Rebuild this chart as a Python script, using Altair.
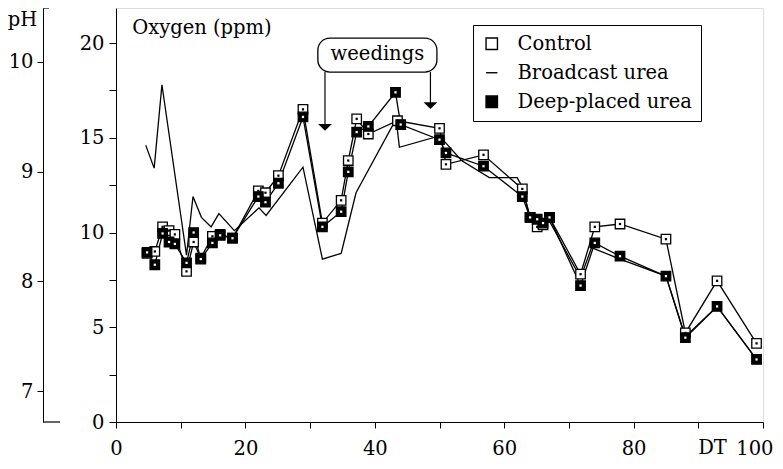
import altair as alt
import pandas as pd

# ---------------- data ----------------
series_names = ["Control", "Broadcast urea", "Deep-placed urea"]

ctrl_x = [4.8, 6.0, 7.2, 8.2, 9.1, 10.9, 12.0, 13.1, 14.9, 16.1, 18.0, 22.0, 23.1, 25.1,
          28.9, 31.9, 34.8, 35.9, 37.2, 39.0, 43.5, 50.0, 51.0, 56.8, 62.8, 64.0, 65.1,
          66.0, 67.0, 71.8, 74.0, 77.9, 85.0, 88.0, 92.9, 99.0]
ctrl_y = [8.9, 9.0, 10.3, 10.1, 9.9, 7.95, 9.5, 8.65, 9.8, 9.9, 9.7, 12.2, 12.1, 13.0,
          16.5, 10.5, 11.7, 13.8, 16.0, 15.2, 15.9, 15.5, 13.6, 14.1, 12.3, 10.8, 10.3,
          10.4, 10.8, 7.8, 10.3, 10.45, 9.65, 4.7, 7.45, 4.15]

deep_x = [4.8, 6.0, 7.2, 8.2, 9.1, 10.9, 12.0, 13.1, 14.9, 16.1, 18.0, 22.0, 23.1, 25.1,
          28.9, 31.9, 34.8, 35.9, 37.2, 39.0, 43.2, 44.0, 50.0, 51.0, 56.8, 62.8, 64.0,
          65.1, 66.0, 67.0, 71.8, 74.0, 77.9, 85.0, 88.0, 92.9, 99.0]
deep_y = [8.95, 8.3, 9.95, 9.5, 9.4, 8.4, 10.0, 8.6, 9.45, 9.85, 9.7, 11.9, 11.6, 12.6,
          16.1, 10.3, 11.1, 13.2, 15.3, 15.6, 17.4, 15.7, 14.9, 14.2, 13.5, 11.9, 10.8,
          10.7, 10.5, 10.8, 7.2, 9.45, 8.75, 7.7, 4.45, 6.1, 3.3]

bcast_x = [4.6, 5.9, 7.1, 10.9, 11.9, 13.2, 14.7, 15.9, 18.3, 22.1, 23.2, 28.9, 31.9,
           34.8, 37.1, 43.3, 43.8, 50.0, 53.4, 57.7, 62.0, 62.8, 64.0, 65.1, 67.0, 71.8,
           73.5, 77.9, 85.0, 88.0, 92.9, 99.0]
bcast_y = [14.6, 13.4, 17.8, 8.8, 11.9, 10.8, 10.3, 11.0, 10.1, 11.3, 10.9, 13.45, 8.6,
           8.9, 12.1, 16.0, 14.5, 15.1, 13.8, 12.9, 12.9, 12.4, 10.8, 10.5, 10.6, 7.6,
           9.2, 8.6, 7.7, 4.5, 6.1, 3.3]

x_ticks = [0, 10, 20, 30, 40, 50, 60, 70, 80, 90, 100]
y_ticks = [0, 2.5, 5, 7.5, 10, 12.5, 15, 17.5, 20]
ph_ticks = [7, 8, 9, 10]
ph_ends = [6.72, 10.49]

weeding_x = [32.3, 48.6]
weeding_tip = [15.55, 16.7]
weed_box = {"x": 31.2, "x2": 49.6, "y": 18.47, "y2": 20.26}

FONT = "DejaVu Serif"
FS = 19.5

# ---------------- tables ----------------
rows = []
for name, xs, ys in [("Control", ctrl_x, ctrl_y),
                     ("Broadcast urea", bcast_x, bcast_y),
                     ("Deep-placed urea", deep_x, deep_y)]:
    for i, (a, b) in enumerate(zip(xs, ys)):
        rows.append({"series": name, "x": a, "y": b, "i": i})
df = pd.DataFrame(rows)
df_pts = df[df["series"] != "Broadcast urea"]

x_scale = alt.Scale(domain=[0, 100], nice=False, zero=False)
y_scale = alt.Scale(domain=[0, 21.85], nice=False)

x_axis = alt.Axis(values=x_ticks, title=None, grid=False, tickSize=6,
                  labelExpr="datum.value % 20 == 0 ? datum.label : ''",
                  labelAlign={"condition": {"test": "datum.value == 100", "value": "right"},
                              "value": "center"},
                  labelOffset={"condition": {"test": "datum.value == 100", "value": 10},
                               "value": 0},
                  labelPadding=11, labelFont=FONT, labelFontSize=FS,
                  labelColor="black", domainColor="black", tickColor="black",
                  labelFlush=False, labelOverlap=False)
y_axis = alt.Axis(values=y_ticks, title=None, grid=False, tickSize=7,
                  labelExpr="datum.value % 5 == 0 ? datum.label : ''",
                  labelPadding=5, labelFont=FONT, labelFontSize=FS,
                  labelColor="black", domainColor="black", tickColor="black")


def X(field="x"):
    return alt.X(f"{field}:Q", scale=x_scale, axis=x_axis)


def Y(field="y"):
    return alt.Y(f"{field}:Q", scale=y_scale, axis=y_axis)


lines = alt.Chart(df).mark_line(color="black", strokeWidth=1.3).encode(
    x=X(), y=Y(), detail="series:N", order="i:Q")

legend = alt.Legend(title=None, orient="none", legendX=357, legendY=17,
                    labelFont=FONT, labelFontSize=FS, labelColor="black",
                    labelLimit=400,
                    strokeColor="black", fillColor="white", padding=9,
                    rowPadding=8, symbolSize=130, symbolStrokeColor="black",
                    symbolStrokeWidth=1.4, labelOffset=16, cornerRadius=0)

points = alt.Chart(df_pts).mark_point(size=90, strokeWidth=1.3,
                                      opacity=1, filled=True).encode(
    x=X(), y=Y(),
    shape=alt.Shape("series:N", scale=alt.Scale(domain=series_names,
                    range=["square", "stroke", "square"]), legend=legend),
    fill=alt.Fill("series:N", scale=alt.Scale(domain=series_names,
                  range=["white", "transparent", "black"]), legend=legend),
    stroke=alt.Stroke("series:N", scale=alt.Scale(domain=series_names,
                      range=["black", "black", "black"]), legend=legend),
)

dots = alt.Chart(df_pts).mark_square(size=5, opacity=1).encode(
    x=X(), y=Y(),
    color=alt.Color("series:N", scale=alt.Scale(domain=["Control", "Deep-placed urea"],
                    range=["black", "white"]), legend=None),
)

box_df = pd.DataFrame([weed_box])
box = alt.Chart(box_df).mark_rect(fill="white", stroke="black", strokeWidth=1.3,
                                  cornerRadius=12).encode(
    x=X("x"), x2="x2", y=Y("y"), y2="y2")

weed_text = alt.Chart(pd.DataFrame({"x": [(weed_box["x"] + weed_box["x2"]) / 2],
                                    "y": [(weed_box["y"] + weed_box["y2"]) / 2],
                                    "t": ["weedings"]})).mark_text(
    font=FONT, fontSize=FS, color="black", baseline="middle", dy=-1).encode(
    x=X(), y=Y(), text="t:N")

arr_df = pd.DataFrame({"x": weeding_x, "y": [weed_box["y"]] * 2,
                       "y2": [t + 0.1 for t in weeding_tip], "tip": weeding_tip})
arr_lines = alt.Chart(arr_df).mark_rule(color="black", strokeWidth=1.2).encode(
    x=X(), y=Y(), y2="y2")
arr_heads = alt.Chart(arr_df).mark_point(
    shape="M-1,-0.5L1,-0.5L0,0.5Z", size=190, filled=True, color="black",
    opacity=1).encode(x=X(), y=Y("tip"))

oxy_title = alt.Chart(pd.DataFrame({"x": [2.5], "y": [20.8], "t": ["Oxygen (ppm)"]})).mark_text(
    font=FONT, fontSize=FS, color="black", align="left", baseline="middle").encode(
    x=X(), y=Y(), text="t:N")

dt_label = alt.Chart(pd.DataFrame({"x": [92.2], "t": ["DT"]})).mark_text(
    font=FONT, fontSize=FS, color="black", align="center", baseline="top").encode(
    x=X(), y=alt.value(431), text="t:N")

main = alt.layer(lines, points, dots, box, weed_text, arr_lines, arr_heads,
                 oxy_title, dt_label)

ph_scale = alt.Scale(domain=ph_ends, nice=False)
ph_axis = alt.Axis(orient="left", offset=73, values=ph_ticks, title="pH",
                   titleAngle=0, titleX=-21, titleY=11, titleAlign="center",
                   titleBaseline="middle", titleFont=FONT, titleFontSize=FS,
                   titleFontWeight="normal", titleColor="black",
                   grid=False, tickSize=6, labelPadding=4, labelFont=FONT,
                   labelFontSize=FS, labelColor="black",
                   domainColor="black", tickColor="black")

# bracket ends of the pH axis (decoration), carrying the pH axis itself
ph_bottom = alt.Chart(pd.DataFrame({"ph": [ph_ends[0]]})).mark_rule(
    color="black", strokeWidth=1.2).encode(
    y=alt.Y("ph:Q", scale=ph_scale, axis=ph_axis),
    x=alt.value(-73), x2=alt.value(-73 + 17))
ph_top = alt.Chart(pd.DataFrame({"ph": [ph_ends[1]]})).mark_rule(
    color="black", strokeWidth=1.2).encode(
    y=alt.Y("ph:Q", scale=ph_scale, axis=ph_axis),
    x=alt.value(-73), x2=alt.value(-73 + 6))
ph_layer = alt.layer(ph_bottom, ph_top)

chart = alt.layer(main, ph_layer).resolve_scale(y="independent").properties(
    width=647, height=414,
    padding={"left": 108, "top": 0, "right": 10, "bottom": 36},
    autosize=alt.AutoSizeParams(type="none"),
).configure_view(stroke="black", strokeWidth=1).configure(background="white")

chart.save("out.html", embed_options={"renderer": "svg", "actions": False})
